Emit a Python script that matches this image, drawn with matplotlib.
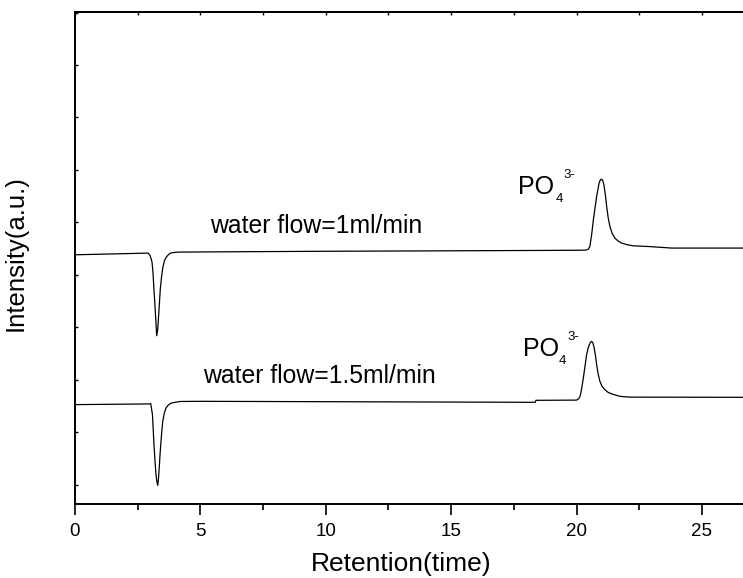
import matplotlib
matplotlib.use("Agg")
import matplotlib.pyplot as plt
from matplotlib.ticker import MultipleLocator

plt.rcParams["font.family"] = ["Liberation Sans", "DejaVu Sans"]

# Chromatogram, water flow = 1 ml/min (retention time, intensity a.u.)
t_flow1 = [0.0, 2.92, 3.00, 3.07, 3.11, 3.15, 3.20, 3.23, 3.26, 3.30, 3.33,
           3.37, 3.40, 3.45, 3.50, 3.57, 3.65, 3.75, 3.85, 4.10, 6.0, 10.0,
           15.0, 19.0, 20.2, 20.40, 20.47, 20.53, 20.60, 20.67, 20.74, 20.80,
           20.86, 20.90, 20.95, 21.00, 21.05, 21.09, 21.15, 21.20, 21.26,
           21.33, 21.42, 21.53, 21.65, 21.80, 22.00, 22.26, 22.86, 23.80, 27.0]
i_flow1 = [4.381, 4.413, 4.362, 4.248, 4.050, 3.714, 3.330, 3.080, 2.838,
           2.960, 3.181, 3.480, 3.714, 3.950, 4.133, 4.270, 4.343, 4.395,
           4.419, 4.432, 4.438, 4.448, 4.457, 4.465, 4.468, 4.472, 4.490,
           4.539, 4.760, 5.048, 5.290, 5.491, 5.650, 5.752, 5.810, 5.823,
           5.790, 5.714, 5.520, 5.301, 5.090, 4.920, 4.790, 4.699, 4.645,
           4.604, 4.575, 4.552, 4.539, 4.509, 4.509]

# Chromatogram, water flow = 1.5 ml/min
t_flow15 = [0.0, 2.95, 3.02, 3.09, 3.12, 3.15, 3.19, 3.23, 3.27, 3.30, 3.33,
            3.36, 3.39, 3.42, 3.46, 3.50, 3.56, 3.63, 3.73, 3.85, 4.19, 5.0,
            18.35, 18.38, 20.00, 20.07, 20.14, 20.20, 20.27, 20.34, 20.40,
            20.46, 20.51, 20.56, 20.60, 20.65, 20.69, 20.75, 20.80, 20.86,
            20.93, 21.02, 21.13, 21.25, 21.40, 21.73, 22.10, 27.0]
i_flow15 = [1.524, 1.537, 1.543, 1.333, 1.050, 0.762, 0.460, 0.190, 0.040,
            -0.013, 0.120, 0.318, 0.560, 0.762, 1.000, 1.206, 1.360, 1.461,
            1.520, 1.556, 1.584, 1.587, 1.568, 1.606, 1.610, 1.630, 1.682,
            1.820, 2.032, 2.270, 2.476, 2.600, 2.667, 2.715, 2.730, 2.700,
            2.634, 2.470, 2.286, 2.110, 1.968, 1.870, 1.810, 1.760, 1.728,
            1.682, 1.667, 1.663]

flow_labels = ["water flow=1ml/min", "water flow=1.5ml/min"]
ion_label = "PO"
ion_sub = "4"
ion_sup = "3-"

x_ticks = [0, 5, 10, 15, 20, 25]
x_limits = (0, 27)
y_limits = (-0.38, 9.01)

fig = plt.figure(figsize=(7.43, 5.78), dpi=100)
ax = fig.add_axes([0.1009, 0.1272, 27 * 25.08 / 743, 0.852])

ax.plot(t_flow1, i_flow1, color="black", lw=0.9)
ax.plot(t_flow15, i_flow15, color="black", lw=0.9)

ax.set_xlim(*x_limits)
ax.set_ylim(*y_limits)

ax.set_xticks(x_ticks)
ax.xaxis.set_minor_locator(MultipleLocator(2.5))
ax.yaxis.set_major_locator(MultipleLocator(1))
ax.set_yticklabels([])

for s in ax.spines.values():
    s.set_linewidth(1.4)

ax.tick_params(axis="x", which="major", direction="out", length=8, width=1.2,
               labelsize=13.5, pad=5.5, top=False)
ax.tick_params(axis="x", which="minor", direction="out", length=4.5, width=1.2,
               top=False)
ax.tick_params(axis="y", which="both", direction="in", length=2.5, width=1.0,
               labelleft=False)

# mirrored small inward ticks along the top edge
top = ax.secondary_xaxis("top")
top.set_xticks([2.5 * k for k in range(11)])
top.tick_params(direction="in", length=2.5, width=1.0, labeltop=False)
top.spines["top"].set_linewidth(1.4)

ax.set_xlabel("Retention(time)", fontsize=19)
ax.xaxis.set_label_coords(0.4815, -0.097)
ax.set_ylabel("Intensity(a.u.)", fontsize=18.5)
ax.yaxis.set_label_coords(-0.07, 0.51)

# curve annotations
ax.text(5.38, 4.80, flow_labels[0], fontsize=17.8, ha="left", va="baseline")
ax.text(5.10, 1.943, flow_labels[1], fontsize=17.8, ha="left", va="baseline")

def ion_tag(x, y, sub_x, sub_y, sup_x, sup_y):
    ax.text(x, y, ion_label, fontsize=18, ha="left", va="baseline")
    ax.text(sub_x, sub_y, ion_sub, fontsize=9.5, ha="left", va="bottom")
    ax.text(sup_x, sup_y, ion_sup, fontsize=9.5, ha="left", va="top")

ion_tag(17.66, 5.543, 19.15, 5.33, 19.47, 6.02)
ion_tag(17.87, 2.457, 19.27, 2.24, 19.63, 2.93)

fig.savefig("out.png", dpi=100)
